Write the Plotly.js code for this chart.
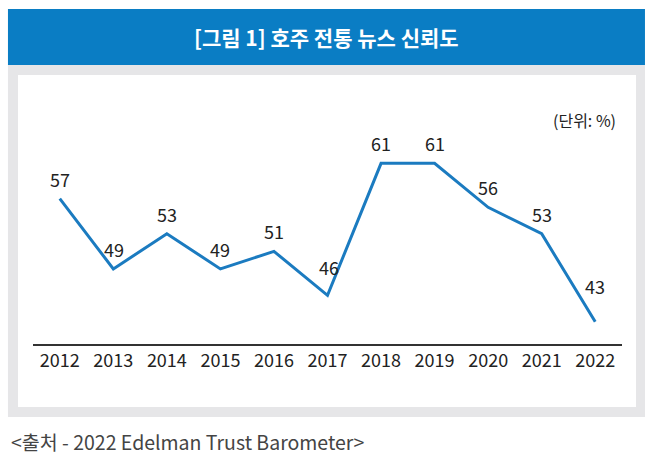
<!DOCTYPE html>
<html>
<head>
<meta charset="utf-8">
<script src="https://cdn.plot.ly/plotly-3.0.1.min.js"></script>
<style>
  html, body { margin: 0; padding: 0; background: #fff; }
  #chart { width: 657px; height: 464px; }
</style>
</head>
<body>
<div id="chart"></div>
<script>
var years = [2012, 2013, 2014, 2015, 2016, 2017, 2018, 2019, 2020, 2021, 2022];
var trust = [57, 49, 53, 49, 51, 46, 61, 61, 56, 53, 43];

var font = "'Noto Sans CJK KR', 'Noto Sans', sans-serif";

// label offsets (px above the point); the two low points sit a bit higher
var labelShift = function (i) {
  if (years[i] === 2017) return 28;
  if (years[i] === 2022) return 36;
  return 20;
};

var trace = {
  x: years,
  y: trust,
  type: "scatter",
  mode: "lines",
  line: { color: "#1b7bc0", width: 3 },
  hoverinfo: "skip"
};

var valueLabels = years.map(function (yr, i) {
  return {
    x: yr, y: trust[i], xref: "x", yref: "y",
    text: String(trust[i]), showarrow: false,
    xanchor: "center", yanchor: "middle",
    xshift: (yr === 2013 || yr === 2017) ? 1 : 0,
    yshift: labelShift(i),
    font: { family: font, size: 18, color: "#222" }
  };
});

var layout = {
  width: 657,
  height: 464,
  margin: { l: 33, r: 35, t: 100, b: 120 },
  paper_bgcolor: "#ffffff",
  plot_bgcolor: "rgba(0,0,0,0)",
  showlegend: false,
  font: { family: font, color: "#222" },
  xaxis: {
    range: [2011.5, 2022.5],
    tickvals: years,
    ticktext: years.map(String),
    showgrid: false,
    zeroline: false,
    showline: true,
    linecolor: "#333",
    linewidth: 1.5,
    ticks: "",
    tickfont: { family: font, size: 18, color: "#222" },
    fixedrange: true
  },
  yaxis: {
    range: [40.47, 68.2],
    visible: false,
    fixedrange: true
  },
  shapes: [
    // gray frame
    { type: "rect", xref: "paper", yref: "paper", x0: -0.0425, x1: 1.039, y0: -0.2992, y1: 1.1434,
      fillcolor: "#e6e6e8", line: { width: 0 }, layer: "below" },
    // inner white panel
    { type: "rect", xref: "paper", yref: "paper", x0: -0.0255, x1: 1.0238, y0: -0.2582, y1: 1.1025,
      fillcolor: "#ffffff", line: { width: 0 }, layer: "below" },
    // blue header
    { type: "rect", xref: "paper", yref: "paper", x0: -0.0425, x1: 1.039, y0: 1.1434, y1: 1.373,
      fillcolor: "#0a7dc4", line: { width: 0 }, layer: "below" }
  ],
  annotations: valueLabels.concat([
    { text: "<b>[그림 1] 호주 전통 뉴스 신뢰도</b>", xref: "paper", yref: "paper",
      x: 0.4985, y: 1.258, xanchor: "center", yanchor: "middle", showarrow: false,
      font: { family: font, size: 21, color: "#ffffff" } },
    { text: "(단위: %)", xref: "paper", yref: "paper",
      x: 0.994, y: 0.918, xanchor: "right", yanchor: "middle", showarrow: false,
      font: { family: font, size: 16, color: "#222" } },
    { text: "&lt;출처 - 2022 Edelman Trust Barometer&gt;", xref: "paper", yref: "paper",
      x: -0.04, y: -0.398, xanchor: "left", yanchor: "middle", showarrow: false,
      font: { family: font, size: 19.5, color: "#444" } }
  ])
};

var config = { displayModeBar: false, staticPlot: true };

Plotly.newPlot("chart", [trace], layout, config);
</script>
</body>
</html>
